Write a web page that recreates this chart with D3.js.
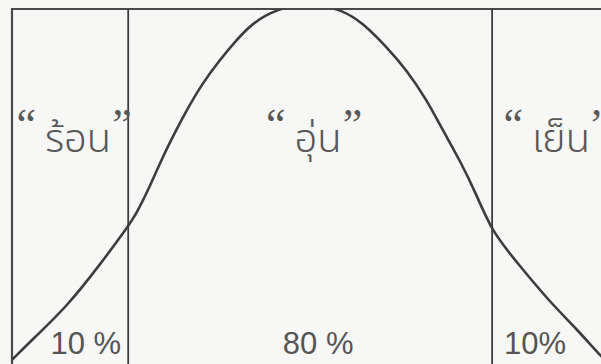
<!DOCTYPE html>
<html>
<head>
<meta charset="utf-8">
<script src="https://cdn.jsdelivr.net/npm/d3@7"></script>
<style>
  html, body { margin: 0; padding: 0; background: #f7f7f6; overflow: hidden; }
  .word { font-family: "Noto Sans Thai", "Loma", "Garuda", "Noto Sans", sans-serif; }
  .quote { font-family: "Liberation Serif", "DejaVu Serif", serif; }
  .share { font-family: "Liberation Sans", Arial, sans-serif; }
</style>
</head>
<body>
<div id="chart"></div>
<script>
// standardised temperature (z) and relative height of the curve
const curveZ = [-2.102, -1.954, -1.715, -1.482, -1.285, -1.222, -1.13, -1.039, -0.954, -0.87,
  -0.757, -0.637, -0.518, -0.405, -0.236, 0, 0.229, 0.37, 0.539, 0.68, 0.821, 0.933, 1.053,
  1.173, 1.278, 1.454, 1.687, 1.877, 2.039, 2.123];
const curveV = [0.011, 0.07, 0.161, 0.279, 0.386, 0.425, 0.499, 0.583, 0.651, 0.715,
  0.792, 0.856, 0.913, 0.961, 1.0, 1.02, 0.997, 0.961, 0.893, 0.828, 0.744, 0.659, 0.575,
  0.476, 0.375, 0.287, 0.175, 0.099, 0.025, -0.006];

const categories = ["ร้อน", "อุ่น", "เย็น"];
const shares = [10, 80, 10];
const shareLabels = ["10 %", "80 %", "10%"];
const cuts = [-1.2816, 1.2816];

const width = 601;
const height = 364;
const frameLeft = 12;
const frameTop = 9;

const x = d3.scaleLinear().domain([-2.1, 2.14]).range([frameLeft, 614]);
const y = d3.scaleLinear().domain([0, 1]).range([height, frameTop]);

const svg = d3.select("#chart").append("svg")
  .attr("width", width)
  .attr("height", height)
  .attr("viewBox", [0, 0, width, height]);

svg.append("defs").append("clipPath").attr("id", "frame")
  .append("rect")
  .attr("x", frameLeft).attr("y", frameTop)
  .attr("width", width - frameLeft).attr("height", height - frameTop);

const ink = "#3d3d3d";

// frame: left and top edges
svg.append("path")
  .attr("fill", "none")
  .attr("stroke", "#4a4a4a")
  .attr("stroke-width", 2.2)
  .attr("d", `M${frameLeft},${height} V${frameTop} H${width}`);

// dividing lines at the 10% / 90% points
svg.append("g")
  .selectAll("line")
  .data(cuts)
  .join("line")
  .attr("x1", (d) => x(d)).attr("x2", (d) => x(d))
  .attr("y1", frameTop).attr("y2", height)
  .attr("stroke", ink)
  .attr("stroke-width", 1.8);

const line = d3.line()
  .x((d) => x(d[0]))
  .y((d) => y(d[1]))
  .curve(d3.curveBasis);

svg.append("path")
  .datum(d3.zip(curveZ, curveV))
  .attr("clip-path", "url(#frame)")
  .attr("fill", "none")
  .attr("stroke", ink)
  .attr("stroke-width", 2.6)
  .attr("d", line);

// regions between the cuts
const bounds = [x.domain()[0], ...cuts, x.domain()[1]];
const regions = categories.map((name, i) => ({
  name,
  share: shares[i],
  label: shareLabels[i],
  x0: x(bounds[i]),
  x1: x(bounds[i + 1]),
}));

const words = svg.append("g")
  .selectAll("text")
  .data(regions)
  .join("text")
  .attr("x", (d) => (d.x0 + d.x1) / 2 + 4)
  .attr("y", 152)
  .attr("text-anchor", "middle")
  .attr("fill", "#585858");

words.append("tspan").attr("class", "quote").attr("dy", -13).attr("font-size", 44).text("\u201C");
words.append("tspan").attr("class", "word").attr("dx", 9).attr("dy", 13)
  .attr("font-weight", 300).attr("font-size", 40).text((d) => d.name);
words.append("tspan").attr("class", "quote").attr("dx", 1).attr("dy", -13).attr("font-size", 44).text("\u201D");

svg.append("g")
  .selectAll("text")
  .data(regions)
  .join("text")
  .attr("class", "share")
  .attr("x", (d, i) => (i === 0 ? d.x1 - 7 : i === 1 ? (d.x0 + d.x1) / 2 + 8 : d.x0 + 12))
  .attr("y", 354)
  .attr("text-anchor", (d, i) => (i === 0 ? "end" : i === 1 ? "middle" : "start"))
  .attr("fill", "#555")
  .attr("font-size", 31)
  .text((d) => d.label);
</script>
</body>
</html>
